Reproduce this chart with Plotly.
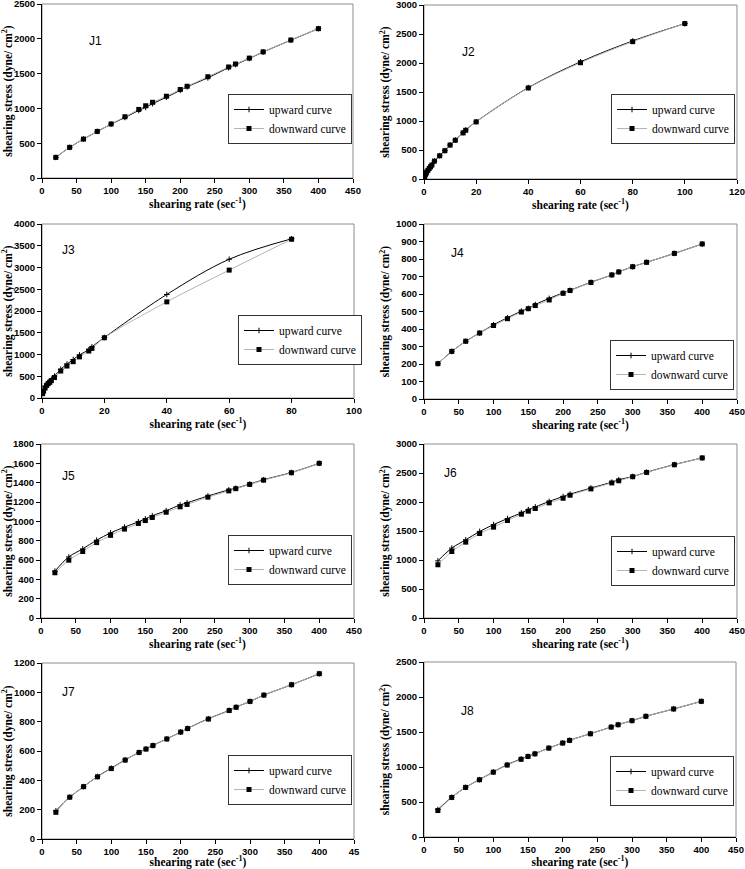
import plotly.graph_objects as go

# ---------------- DATA ----------------
rate = [20, 40, 60, 80, 100, 120, 140, 150, 160, 180, 200, 210, 240, 270, 280, 300, 320, 360, 400]

j1_up = [296, 440, 559, 669, 774, 870, 970, 1015, 1068, 1160, 1260, 1310, 1440, 1585, 1630, 1718, 1810, 1980, 2146]
j1_down = [296, 440, 559, 669, 776, 880, 985, 1038, 1088, 1175, 1272, 1318, 1455, 1595, 1638, 1722, 1812, 1982, 2146]

j2_rate = [0.1, 0.3, 0.5, 0.75, 1, 1.5, 2, 2.5, 3, 4, 6, 8, 10, 12, 15, 16, 20, 40, 60, 80, 100]
j2_up = [12, 57, 80, 98, 120, 150, 184, 212, 241, 310, 402, 490, 588, 672, 800, 845, 988, 1575, 2020, 2380, 2680]
j2_down = [12, 55, 78, 96, 118, 148, 182, 210, 240, 308, 400, 488, 585, 668, 795, 840, 985, 1570, 2005, 2368, 2680]

j3_rate = [0.2, 0.5, 1, 1.5, 2, 2.5, 3, 4, 6, 8, 10, 12, 15, 16, 20, 40, 60, 80]
j3_up = [110, 190, 270, 320, 360, 390, 430, 505, 660, 780, 885, 990, 1110, 1175, 1390, 2380, 3190, 3660]
j3_down = [100, 160, 230, 290, 330, 360, 400, 470, 620, 735, 835, 945, 1080, 1140, 1385, 2210, 2940, 3650]

j4_up = [202, 272, 330, 377, 424, 464, 502, 518, 540, 575, 606, 621, 667, 709, 726, 756, 781, 832, 886]
j4_down = [202, 272, 330, 377, 420, 459, 497, 516, 534, 566, 604, 620, 666, 709, 726, 756, 781, 832, 886]

j5_up = [485, 632, 715, 805, 880, 940, 995, 1025, 1058, 1110, 1170, 1192, 1262, 1325, 1342, 1385, 1430, 1505, 1600]
j5_down = [468, 598, 688, 780, 855, 920, 978, 1008, 1040, 1094, 1150, 1175, 1250, 1315, 1338, 1382, 1426, 1503, 1600]

j6_up = [985, 1205, 1348, 1492, 1610, 1715, 1812, 1868, 1915, 2010, 2095, 2135, 2240, 2342, 2382, 2440, 2513, 2645, 2760]
j6_down = [918, 1147, 1308, 1457, 1566, 1681, 1790, 1842, 1888, 1985, 2065, 2117, 2226, 2329, 2366, 2436, 2510, 2643, 2760]

j7_up = [192, 285, 357, 426, 483, 540, 590, 615, 638, 683, 729, 754, 820, 877, 899, 938, 981, 1052, 1127]
j7_down = [182, 285, 357, 424, 480, 538, 590, 613, 637, 682, 729, 753, 818, 876, 898, 938, 981, 1052, 1127]

j8_up = [392, 567, 710, 819, 929, 1033, 1115, 1152, 1190, 1271, 1343, 1381, 1476, 1571, 1605, 1662, 1724, 1829, 1938]
j8_down = [378, 565, 708, 818, 926, 1028, 1110, 1150, 1188, 1270, 1342, 1380, 1475, 1570, 1604, 1662, 1724, 1829, 1938]

x_ticks_450 = [0, 50, 100, 150, 200, 250, 300, 350, 400, 450]
x_labels_450 = ["0", "50", "100", "150", "200", "250", "300", "350", "400", "450"]
x_labels_j7 = ["0", "50", "100", "150", "200", "250", "300", "350", "400", "45"]

# ---------------- PANEL SETUP ----------------
W, H = 745, 869

# name, x, up, down, xmax, ymax, ydtick, xdtick, xticktext, box px (l, r, top, bottom), label pos, legend px
panels = [
    ("J1", rate, j1_up, j1_down, 450, 2500, 500, 50, x_labels_450, (42, 353, 4, 178), (0.145, 0.84), (228, 94)),
    ("J2", j2_rate, j2_up, j2_down, 120, 3000, 500, 20, None, (424, 737, 5, 179), (0.115, 0.78), (611, 94)),
    ("J3", j3_rate, j3_up, j3_down, 100, 4000, 500, 20, None, (42, 354, 224, 398), (0.058, 0.90), (238, 315)),
    ("J4", rate, j4_up, j4_down, 450, 1000, 100, 50, x_labels_450, (424, 737, 224, 399), (0.08, 0.886), (610, 340)),
    ("J5", rate, j5_up, j5_down, 450, 1800, 200, 50, x_labels_450, (41, 354, 444, 618), (0.06, 0.868), (228, 535)),
    ("J6", rate, j6_up, j6_down, 450, 3000, 500, 50, x_labels_450, (424, 737, 444, 618), (0.058, 0.885), (611, 536)),
    ("J7", rate, j7_up, j7_down, 450, 1200, 200, 50, x_labels_j7, (42, 354, 663, 839), (0.058, 0.886), (228, 755)),
    ("J8", rate, j8_up, j8_down, 450, 2500, 500, 50, x_labels_450, (424, 736, 662, 837), (0.112, 0.77), (610, 756)),
]

tick_font = dict(family="Liberation Sans", size=9.5, color="black", weight="bold")
title_font = dict(family="Liberation Serif", size=11.5, color="black", weight="bold")

fig = go.Figure()
layout = dict(
    width=W, height=H,
    margin=dict(l=0, r=0, t=0, b=0),
    paper_bgcolor="white", plot_bgcolor="white",
    showlegend=True,
    annotations=[], shapes=[],
)

for i, (name, xs, up, down, xmax, ymax, ydt, xdt, xtt, box, lab, leg) in enumerate(panels):
    n = "" if i == 0 else str(i + 1)
    xa, ya = "x" + n, "y" + n
    lg = "legend" + n
    l, r, t, b = box

    fig.add_trace(go.Scatter(
        x=xs, y=up, xaxis=xa, yaxis=ya, mode="lines+markers",
        name="upward curve", legend=lg,
        line=dict(color="black", width=1, shape="spline", smoothing=1),
        marker=dict(symbol="cross-thin", size=4, color="black", line=dict(width=1, color="black")),
    ))
    fig.add_trace(go.Scatter(
        x=xs, y=down, xaxis=xa, yaxis=ya, mode="lines+markers",
        name="downward curve", legend=lg,
        line=dict(color="#b4b4b4", width=1, shape="spline", smoothing=1),
        marker=dict(symbol="square", size=5, color="black"),
    ))

    xaxis = dict(
        domain=[l / W, r / W], anchor=ya, range=[0, xmax],
        showgrid=False, zeroline=False, showline=True, linecolor="black", linewidth=1,
        ticks="outside", ticklen=4, tickcolor="black", tickfont=tick_font,
        ticklabeloverflow="allow",
        title=dict(text="shearing rate (sec<sup>-1</sup>)", font=title_font, standoff=2),
        automargin=False,
    )
    if xtt is not None:
        xaxis["tickvals"] = x_ticks_450
        xaxis["ticktext"] = xtt
    else:
        xaxis["dtick"] = xdt
    yaxis = dict(
        domain=[1 - b / H, 1 - t / H], anchor=xa, range=[0, ymax], dtick=ydt,
        showgrid=False, zeroline=False, showline=True, linecolor="black", linewidth=1,
        ticks="outside", ticklen=4, tickcolor="black", tickfont=tick_font,
        ticklabeloverflow="allow",
        title=dict(text="shearing stress (dyne/ cm<sup>2</sup>)", font=title_font, standoff=3),
        automargin=False,
    )
    layout["xaxis" + n] = xaxis
    layout["yaxis" + n] = yaxis

    # grey plot-area frame
    layout["shapes"].append(dict(
        type="rect", xref=xa + " domain", yref=ya + " domain",
        x0=0, x1=1, y0=0, y1=1, line=dict(color="#8c8c8c", width=1), layer="below",
    ))
    layout["annotations"].append(dict(
        text=name, xref=xa + " domain", yref=ya + " domain", x=lab[0], y=lab[1],
        showarrow=False, font=dict(family="Liberation Sans", size=12, color="black"),
    ))
    layout[lg] = dict(
        x=leg[0] / W, y=1 - leg[1] / H, xanchor="left", yanchor="top",
        bordercolor="#333333", borderwidth=1, bgcolor="white",
        font=dict(family="Liberation Serif", size=11.5, color="black"),
        tracegroupgap=0, itemwidth=30,
    )

fig.update_layout(**layout)
fig.write_html("out.html", config={"displayModeBar": False},
               post_script="document.body.style.margin='0';")
